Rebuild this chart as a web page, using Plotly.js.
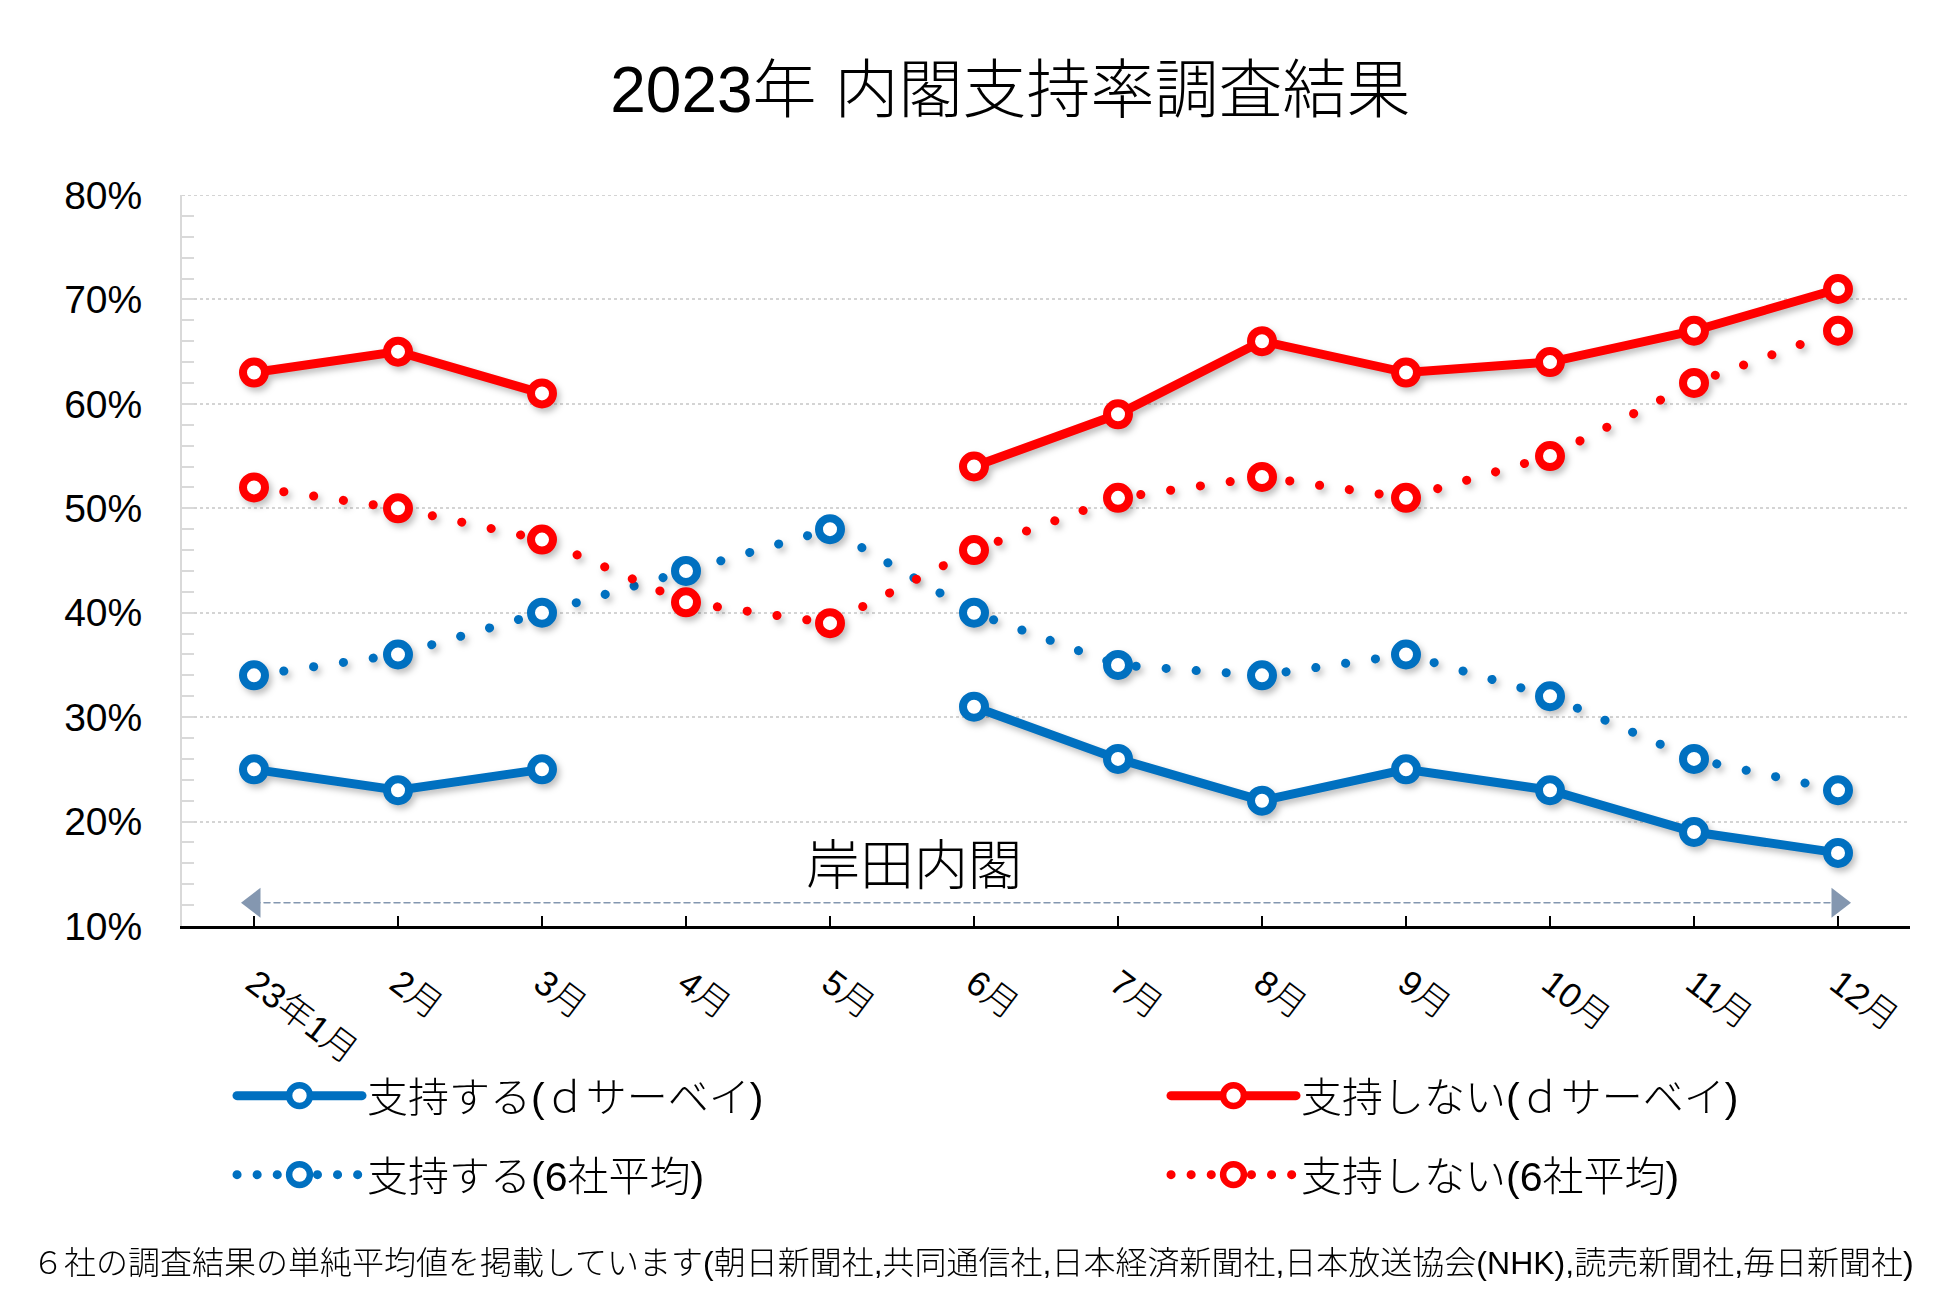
<!DOCTYPE html>
<html><head><meta charset="utf-8">
<script src="https://cdn.plot.ly/plotly-3.0.1.min.js"></script>
<style>
html,body{margin:0;padding:0;background:#fff;}
#chart{width:1958px;height:1296px;}
.scatterlayer .trace:nth-child(-n+4){filter:drop-shadow(3px 4px 3px rgba(0,0,0,0.25));}
.js-line{stroke-linecap:round;}
.legend3 .js-line,.legend4 .js-line{stroke-dasharray:0.1px,20px !important;}
.legendpoints path.scatterpts{transform:translate(67.5px,0px) scale(1.3);}
</style>
</head><body><div id="chart"></div>
<script>
const months = ['23年1月','2月','3月','4月','5月','6月','7月','8月','9月','10月','11月','12月'];
const supportD = [25,23,25,null,null,31,26,22,25,23,19,17];
const opposeD = [63,65,61,null,null,54,59,66,63,64,67,71];
const support6 = [34,36,40,44,48,40,35,34,36,32,26,23];
const oppose6 = [52,50,47,41,39,46,51,53,51,55,62,67];
const seriesNames = ['支持する(ｄサーベイ)','支持しない(ｄサーベイ)','支持する(6社平均)','支持しない(6社平均)'];
const yTicks = [10,20,30,40,50,60,70,80];
const cabinetLabel = '岸田内閣';
const cabinetSpan = ['23年1月','12月'];
const titleText = '2023年 内閣支持率調査結果';
const footnote = '６社の調査結果の単純平均値を掲載しています(朝日新聞社,共同通信社,日本経済新聞社,日本放送協会(NHK),読売新聞社,毎日新聞社)';

const BLUE = '#0070C0', RED = '#FF0000', ARROW = '#8497B0', GRID = '#d4d4d4';
const FONT = "'Liberation Sans', 'Noto Sans CJK JP', sans-serif";
const xIdx = months.map((m, i) => i);

function series(name, y, color, dotted, legendId) {
  return {
    type: 'scatter', mode: 'lines+markers', x: xIdx, y: y, name: name, legend: legendId,
    line: {color: color, width: 9, dash: dotted ? '0.1px,30px' : 'solid'},
    marker: {symbol: 'circle', size: 22, color: '#ffffff', line: {color: color, width: 8}},
    connectgaps: false, hoverinfo: 'skip'
  };
}

const spanIdx = cabinetSpan.map(m => months.indexOf(m));
const traces = [
  series(seriesNames[0], supportD, BLUE, false, 'legend'),
  series(seriesNames[1], opposeD, RED, false, 'legend2'),
  series(seriesNames[2], support6, BLUE, true, 'legend3'),
  series(seriesNames[3], oppose6, RED, true, 'legend4'),
  {
    type: 'scatter', mode: 'lines+markers', x: spanIdx, y: [12.22, 12.22],
    line: {color: ARROW, width: 1.5, dash: '6px,4px'},
    marker: {symbol: ['triangle-left', 'triangle-right'], size: 26, color: ARROW},
    showlegend: false, hoverinfo: 'skip'
  }
];

function leg(x, y) {
  return {
    x: x / 1958, xref: 'container', y: 1 - y / 1296, yref: 'container',
    xanchor: 'left', yanchor: 'middle', orientation: 'h', itemwidth: 125,
    bgcolor: 'rgba(0,0,0,0)', font: {family: FONT, size: 41, color: '#000', weight: 300}
  };
}

const layout = {
  width: 1958, height: 1296,
  paper_bgcolor: '#ffffff', plot_bgcolor: '#ffffff',
  margin: {l: 182, r: 48, t: 195, b: 370},
  showlegend: true,
  title: {
    text: titleText, xref: 'container', x: 0.516, xanchor: 'center',
    yref: 'container', y: 1 - 90 / 1296, yanchor: 'middle',
    font: {family: FONT, size: 64, color: '#000', weight: 300}
  },
  xaxis: {
    range: [-0.5, 11.5], tickvals: xIdx, ticktext: months, tickangle: 37,
    ticks: 'inside', ticklen: 10, tickwidth: 2, tickcolor: '#000',
    showline: true, linecolor: '#000', linewidth: 3, showgrid: false, zeroline: false,
    tickfont: {family: FONT, size: 35, color: '#000', weight: 300},
    ticklabelstandoff: 20, fixedrange: true
  },
  yaxis: {
    range: [10, 80], tickvals: yTicks, ticktext: yTicks.map(v => v + '%'),
    showgrid: true, gridcolor: GRID, griddash: 'dot', gridwidth: 2,
    showline: true, linecolor: '#d9d9d9', linewidth: 2,
    ticks: 'inside', ticklen: 12, tickwidth: 2, tickcolor: '#d9d9d9',
    minor: {tick0: 10, dtick: 2, ticks: 'inside', ticklen: 12, tickwidth: 2, tickcolor: '#d9d9d9', showgrid: false},
    zeroline: false,
    tickfont: {family: "'Liberation Sans', sans-serif", size: 39, color: '#000'},
    ticklabelstandoff: 30, fixedrange: true
  },
  shapes: [
    {type: 'line', xref: 'paper', yref: 'y', x0: 0, x1: 1, y0: yTicks[yTicks.length - 1], y1: yTicks[yTicks.length - 1],
     line: {color: GRID, width: 2, dash: 'dot'}, layer: 'below'}
  ],
  legend: leg(232, 1096),
  legend2: leg(1166, 1096),
  legend3: leg(232, 1175),
  legend4: leg(1166, 1175),
  annotations: [
    {text: cabinetLabel, xref: 'x', yref: 'y', x: 4.58, y: 15.72, showarrow: false,
     xanchor: 'center', yanchor: 'middle', font: {family: FONT, size: 54, color: '#000', weight: 300}},
    {text: footnote, xref: 'paper', yref: 'paper', x: (973 - 182) / 1728, y: (926.5 - 1264) / 731.5,
     showarrow: false, xanchor: 'center', yanchor: 'middle',
     font: {family: FONT, size: 32, color: '#000', weight: 300}}
  ]
};

Plotly.newPlot('chart', traces, layout, {displayModeBar: false, staticPlot: true});
</script>
</body></html>
